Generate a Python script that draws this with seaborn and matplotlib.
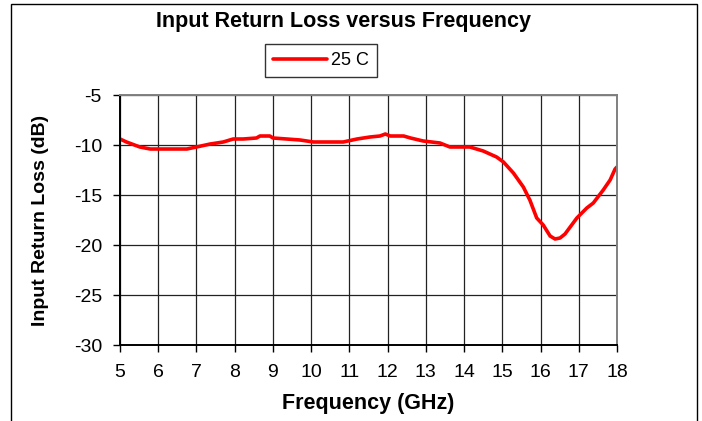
import numpy as np
import pandas as pd
import matplotlib
matplotlib.use("Agg")
import matplotlib.pyplot as plt
import seaborn as sns

# values
freq_ghz = [5.0, 5.17, 5.52, 5.79, 6.2, 6.75, 7.0, 7.36, 7.7, 7.96, 8.22, 8.57, 8.66,
            8.92, 9.0, 9.36, 9.71, 10.06, 10.5, 10.84, 11.2, 11.54, 11.8, 11.94, 12.07,
            12.42, 12.6, 12.93, 13.37, 13.63, 14.15, 14.5, 14.85, 15.03, 15.29, 15.55,
            15.72, 15.9, 16.07, 16.25, 16.38, 16.51, 16.64, 16.95, 17.21, 17.38, 17.64,
            17.82, 17.95, 18.0]
return_loss_db = [-9.4, -9.7, -10.2, -10.4, -10.4, -10.4, -10.2, -9.9, -9.7, -9.4, -9.4,
                  -9.3, -9.1, -9.1, -9.3, -9.4, -9.5, -9.7, -9.7, -9.7, -9.4, -9.2, -9.1,
                  -8.9, -9.1, -9.1, -9.3, -9.6, -9.8, -10.2, -10.2, -10.6, -11.2, -11.7,
                  -12.8, -14.2, -15.5, -17.3, -18.0, -19.1, -19.4, -19.3, -18.9, -17.3,
                  -16.3, -15.8, -14.5, -13.5, -12.4, -12.2]
series_name = "25 C"
x_ticks = list(range(5, 19))
y_ticks = [-5, -10, -15, -20, -25, -30]

df = pd.DataFrame({"Frequency": freq_ghz, "Loss": return_loss_db, "Series": series_name})

sns.set_theme(style="white")
plt.rcParams["font.family"] = ["Liberation Sans", "DejaVu Sans"]
plt.rcParams["axes.unicode_minus"] = False
plt.rcParams["text.color"] = "black"
plt.rcParams["axes.labelcolor"] = "black"
plt.rcParams["xtick.color"] = "black"
plt.rcParams["ytick.color"] = "black"

fig = plt.figure(figsize=(7.02, 4.21), dpi=100)
ax = fig.add_axes([120 / 702, 76 / 421, 497 / 702, 250 / 421])

sns.lineplot(data=df, x="Frequency", y="Loss", hue="Series", palette=["#ff0000"],
             sort=False, linewidth=2.6, ax=ax, legend=True)

ax.set_xlim(5, 18)
ax.set_ylim(-30, -5)
ax.set_xticks(x_ticks)
ax.set_yticks(y_ticks)
ax.grid(True, color="#222222", linewidth=0.9)
ax.tick_params(axis="both", direction="out", length=5, width=1, color="black",
               labelsize=14, bottom=True, left=True)
ax.tick_params(axis="x", pad=9)
ax.tick_params(axis="y", pad=8)
for side in ["left", "bottom"]:
    ax.spines[side].set_color("black")
    ax.spines[side].set_linewidth(1.4)
for side in ["top", "right"]:
    ax.spines[side].set_color("#808080")
    ax.spines[side].set_linewidth(1.4)

ax.set_xlabel("Frequency (GHz)", fontsize=15.5, fontweight="bold")
ax.xaxis.set_label_coords(0.5, -0.19)
ax.set_ylabel("Input Return Loss (dB)", fontsize=14, fontweight="bold")
ax.yaxis.set_label_coords(-0.142, 0.5)

leg = ax.legend(loc="center", bbox_to_anchor=(321 / 702, 1 - 60.5 / 421),
                bbox_transform=fig.transFigure, frameon=True, fancybox=False,
                fontsize=13, handlelength=3.0, handletextpad=0.2, borderpad=0.45,
                borderaxespad=0)
leg.get_frame().set_edgecolor("black")
leg.get_frame().set_linewidth(1)

fig.text(343 / 702, 1 - 22 / 421, "Input Return Loss versus Frequency",
         ha="center", va="center", fontsize=15.5, fontweight="bold")

# outer chart border
fig.patches.append(plt.Rectangle((11 / 702, -0.01), 686 / 702, 1 - 4 / 421 + 0.01,
                                 transform=fig.transFigure, fill=False,
                                 edgecolor="black", linewidth=1))

fig.savefig("out.png", dpi=100)
